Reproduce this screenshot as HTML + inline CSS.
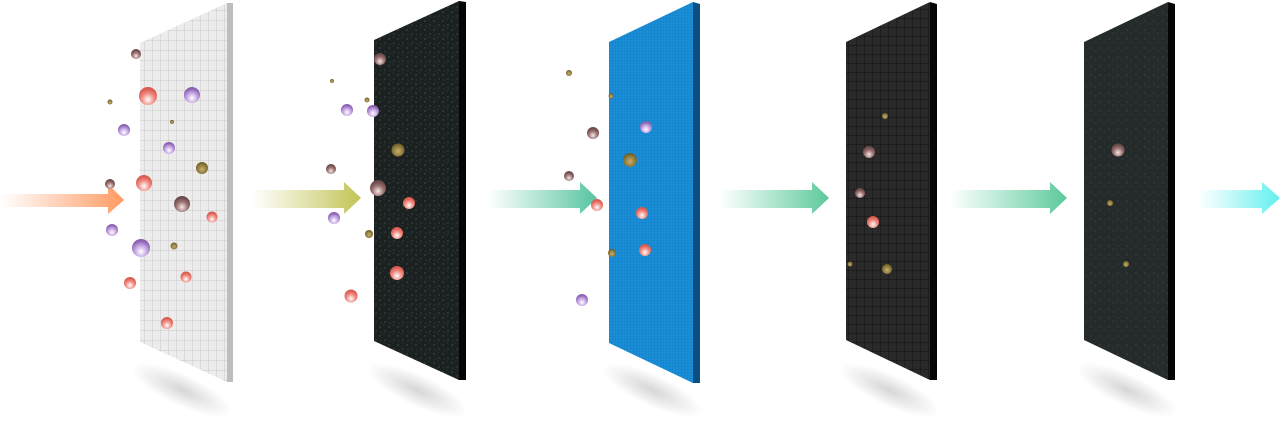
<!DOCTYPE html>
<html><head><meta charset="utf-8"><style>html,body{margin:0;padding:0;background:#fff;width:1280px;height:431px;overflow:hidden}</style></head>
<body>
<svg width="1280" height="431" viewBox="0 0 1280 431" xmlns="http://www.w3.org/2000/svg">
<defs>
<linearGradient id="a1" x1="0" x2="1"><stop offset="0" stop-color="#ffa070" stop-opacity="0"/><stop offset="1" stop-color="#ff9a60"/></linearGradient>
<linearGradient id="a2" x1="0" x2="1"><stop offset="0" stop-color="#c8c860" stop-opacity="0"/><stop offset="1" stop-color="#c2c454"/></linearGradient>
<linearGradient id="a3" x1="0" x2="1"><stop offset="0" stop-color="#60c8a8" stop-opacity="0"/><stop offset="1" stop-color="#56c4a0"/></linearGradient>
<linearGradient id="a4" x1="0" x2="1"><stop offset="0" stop-color="#60d0a0" stop-opacity="0"/><stop offset="1" stop-color="#5cc89a"/></linearGradient>
<linearGradient id="a5" x1="0" x2="1"><stop offset="0" stop-color="#70f0f0" stop-opacity="0"/><stop offset="1" stop-color="#60f0f0"/></linearGradient>
<pattern id="grid1" width="8" height="10" patternUnits="userSpaceOnUse"><rect width="8" height="10" fill="#ececec"/><path d="M0 0H8M0 0V10" stroke="#c8c8c8" stroke-width="1"/></pattern>
<pattern id="grid3" width="3" height="3" patternUnits="userSpaceOnUse"><rect width="3" height="3" fill="#1a8ed6"/><path d="M0 0H3M0 0V3" stroke="#0f7ac0" stroke-width="0.6"/></pattern>
<pattern id="grid4" width="8" height="9" patternUnits="userSpaceOnUse"><rect width="8" height="9" fill="#2a2a2a"/><path d="M0 0H8M0 0V9" stroke="#111" stroke-width="1"/></pattern>
<pattern id="noise" width="9" height="9" patternUnits="userSpaceOnUse"><rect width="9" height="9" fill="#1b2120"/><circle cx="2" cy="3" r=".6" fill="#5a6a66"/><circle cx="6" cy="1" r=".5" fill="#3c4a48"/><circle cx="7" cy="7" r=".6" fill="#4c5a58"/><circle cx="3" cy="8" r=".4" fill="#6a7070"/></pattern>
<pattern id="noise5" width="9" height="9" patternUnits="userSpaceOnUse"><rect width="9" height="9" fill="#252a2a"/><circle cx="2" cy="3" r=".6" fill="#4a5250"/><circle cx="6" cy="6" r=".6" fill="#3e4646"/></pattern>
<radialGradient id="sh" cx=".5" cy=".5" r=".5"><stop offset="0" stop-color="#000" stop-opacity=".16"/><stop offset="1" stop-color="#000" stop-opacity="0"/></radialGradient>
<radialGradient id="pr" cx=".5" cy=".7" r=".6"><stop offset="0" stop-color="#fff"/><stop offset=".6" stop-color="#f08a80"/><stop offset="1" stop-color="#d85a50"/></radialGradient>
<radialGradient id="pp" cx=".5" cy=".7" r=".6"><stop offset="0" stop-color="#fff"/><stop offset=".6" stop-color="#c0a0e0"/><stop offset="1" stop-color="#8a60b0"/></radialGradient>
<radialGradient id="pb" cx=".5" cy=".7" r=".6"><stop offset="0" stop-color="#f4e8e8"/><stop offset=".6" stop-color="#9a7070"/><stop offset="1" stop-color="#6a4a4a"/></radialGradient>
<radialGradient id="po" cx=".5" cy=".6" r=".6"><stop offset="0" stop-color="#c8b070"/><stop offset="1" stop-color="#6a5a20"/></radialGradient>
</defs>
<g fill="url(#sh)">
<ellipse cx="182" cy="390" rx="55" ry="16" transform="rotate(25 182 390)"/>
<ellipse cx="417" cy="390" rx="55" ry="16" transform="rotate(25 417 390)"/>
<ellipse cx="652" cy="390" rx="55" ry="16" transform="rotate(25 652 390)"/>
<ellipse cx="889" cy="390" rx="55" ry="16" transform="rotate(25 889 390)"/>
<ellipse cx="1127" cy="390" rx="55" ry="16" transform="rotate(25 1127 390)"/>
</g>
<path d="M0 194H108V184L124 200L108 214V207H0Z" fill="url(#a1)"/>
<path d="M252 190H344V182L361 198L344 214V208H252Z" fill="url(#a2)"/>
<path d="M488 190H580V182L597 198L580 214V208H488Z" fill="url(#a3)"/>
<path d="M720 190H812V182L829 198L812 214V208H720Z" fill="url(#a4)"/>
<path d="M950 190H1050V182L1067 198L1050 214V208H950Z" fill="url(#a4)"/>
<path d="M1198 190H1262V182L1280 198L1262 214V208H1198Z" fill="url(#a5)"/>
<path d="M227 3L233 3V382L227 382Z" fill="#bdbdbd"/>
<path d="M140 43L227 3V382L140 342Z" fill="url(#grid1)"/>
<path d="M459 1L466 2V380L459 380Z" fill="#050505"/>
<path d="M374 40L459 1V380L374 341Z" fill="url(#noise)"/>
<path d="M693 2L700 4V383L693 383Z" fill="#0a4f80"/>
<path d="M609 42L693 2V383L609 343Z" fill="url(#grid3)"/>
<path d="M930 2L937 4V380L930 380Z" fill="#050505"/>
<path d="M846 42L930 2V380L846 340Z" fill="url(#grid4)"/>
<path d="M1168 2L1175 4V380L1168 380Z" fill="#050505"/>
<path d="M1084 42L1168 2V380L1084 340Z" fill="url(#noise5)"/>
<g>
<circle cx="136" cy="54" r="5" fill="url(#pb)"/>
<circle cx="148" cy="96" r="9" fill="url(#pr)"/>
<circle cx="192" cy="95" r="8" fill="url(#pp)"/>
<circle cx="110" cy="102" r="2.5" fill="url(#po)"/>
<circle cx="172" cy="122" r="2" fill="url(#po)"/>
<circle cx="124" cy="130" r="6" fill="url(#pp)"/>
<circle cx="169" cy="148" r="6" fill="url(#pp)"/>
<circle cx="202" cy="168" r="6" fill="url(#po)"/>
<circle cx="110" cy="184" r="5" fill="url(#pb)"/>
<circle cx="144" cy="183" r="8" fill="url(#pr)"/>
<circle cx="182" cy="204" r="8" fill="url(#pb)"/>
<circle cx="212" cy="217" r="5.5" fill="url(#pr)"/>
<circle cx="112" cy="230" r="6" fill="url(#pp)"/>
<circle cx="141" cy="248" r="9" fill="url(#pp)"/>
<circle cx="174" cy="246" r="3.5" fill="url(#po)"/>
<circle cx="186" cy="277" r="5.5" fill="url(#pr)"/>
<circle cx="130" cy="283" r="6" fill="url(#pr)"/>
<circle cx="167" cy="323" r="6" fill="url(#pr)"/>
<circle cx="380" cy="59" r="6" fill="url(#pb)"/>
<circle cx="332" cy="81" r="2" fill="url(#po)"/>
<circle cx="367" cy="100" r="2.5" fill="url(#po)"/>
<circle cx="347" cy="110" r="6" fill="url(#pp)"/>
<circle cx="373" cy="111" r="6" fill="url(#pp)"/>
<circle cx="398" cy="150" r="6.5" fill="url(#po)"/>
<circle cx="331" cy="169" r="5" fill="url(#pb)"/>
<circle cx="378" cy="188" r="8" fill="url(#pb)"/>
<circle cx="409" cy="203" r="6" fill="url(#pr)"/>
<circle cx="334" cy="218" r="6" fill="url(#pp)"/>
<circle cx="369" cy="234" r="4" fill="url(#po)"/>
<circle cx="397" cy="233" r="6" fill="url(#pr)"/>
<circle cx="397" cy="273" r="7" fill="url(#pr)"/>
<circle cx="351" cy="296" r="6.5" fill="url(#pr)"/>
<circle cx="569" cy="73" r="3" fill="url(#po)"/>
<circle cx="611" cy="96" r="2.5" fill="url(#po)"/>
<circle cx="646" cy="127" r="6" fill="url(#pp)"/>
<circle cx="593" cy="133" r="6" fill="url(#pb)"/>
<circle cx="630" cy="160" r="7" fill="url(#po)"/>
<circle cx="569" cy="176" r="5" fill="url(#pb)"/>
<circle cx="597" cy="205" r="6" fill="url(#pr)"/>
<circle cx="642" cy="213" r="6" fill="url(#pr)"/>
<circle cx="645" cy="250" r="6" fill="url(#pr)"/>
<circle cx="612" cy="253" r="4" fill="url(#po)"/>
<circle cx="582" cy="300" r="6" fill="url(#pp)"/>
<circle cx="885" cy="116" r="3" fill="url(#po)"/>
<circle cx="869" cy="152" r="6" fill="url(#pb)"/>
<circle cx="860" cy="193" r="5" fill="url(#pb)"/>
<circle cx="873" cy="222" r="6" fill="url(#pr)"/>
<circle cx="850" cy="264" r="2.5" fill="url(#po)"/>
<circle cx="887" cy="269" r="5" fill="url(#po)"/>
<circle cx="1118" cy="150" r="6.5" fill="url(#pb)"/>
<circle cx="1110" cy="203" r="3" fill="url(#po)"/>
<circle cx="1126" cy="264" r="3" fill="url(#po)"/>
</g>
</svg>
</body></html>
